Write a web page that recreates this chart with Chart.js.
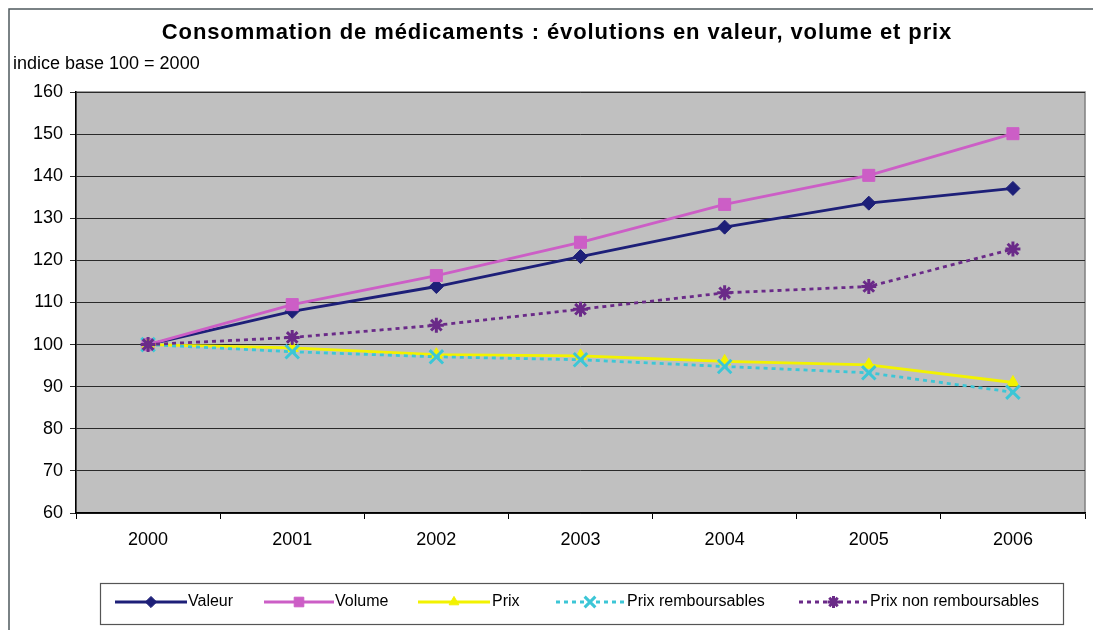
<!DOCTYPE html>
<html>
<head>
<meta charset="utf-8">
<script src="https://cdn.jsdelivr.net/npm/chart.js@4/dist/chart.umd.min.js"></script>
<style>
  html, body { margin: 0; padding: 0; background: #fff; }
  #wrap { width: 1093px; height: 630px; }
</style>
</head>
<body>
<div id="wrap"><canvas id="chart" width="1093" height="630"></canvas></div>
<script>
// data
const years = ["2000", "2001", "2002", "2003", "2004", "2005", "2006"];
const valeur = [100, 107.9, 113.8, 120.9, 127.9, 133.6, 137.1];
const volume = [100, 109.5, 116.4, 124.3, 133.3, 140.2, 150.1];
const prix = [100, 99.2, 97.6, 97.3, 96.0, 95.2, 91.0];
const prixRemb = [100, 98.3, 97.1, 96.4, 94.8, 93.3, 88.7];
const prixNonRemb = [100, 101.7, 104.6, 108.4, 112.3, 113.8, 122.7];
const yTicks = { min: 60, max: 160, step: 10 };

const titleText = "Consommation de médicaments : évolutions en valeur, volume et prix";
const subtitleText = "indice base 100 = 2000";
const FONT = "'Liberation Sans', Arial, sans-serif";

function series(label, data, color, pointStyle, radius, dash, order) {
  const thin = pointStyle === "crossRot" || pointStyle === "star";
  return {
    label: label,
    data: data,
    borderColor: color,
    backgroundColor: color,
    pointBackgroundColor: color,
    pointBorderColor: color,
    pointStyle: pointStyle,
    pointRadius: radius,
    pointHoverRadius: radius,
    pointBorderWidth: thin ? 3 : 1,
    borderWidth: 2.8,
    borderDash: dash,
    borderCapStyle: "butt",
    tension: 0,
    order: order
  };
}

const datasets = [
  series("Valeur", valeur, "#1d1f78", "rectRot", 7, [], 5),
  series("Volume", volume, "#cc5ec6", "rect", 8.5, [], 4),
  series("Prix", prix, "#f2f200", "triangle", 7, [], 3),
  series("Prix remboursables", prixRemb, "#3cc6d6", "crossRot", 9.5, [4, 4], 2),
  series("Prix non remboursables", prixNonRemb, "#6a2a88", "star", 7.5, [4, 4], 1)
];

// legend entry positions (line start, line end, text start)
const legendItems = [
  { x0: 115, x1: 187, tx: 188 },
  { x0: 264, x1: 334, tx: 335 },
  { x0: 418, x1: 490, tx: 492 },
  { x0: 556, x1: 624, tx: 627 },
  { x0: 799, x1: 868, tx: 870 }
];

function marker(ctx, style, r, x, y, color, lw) {
  if (Chart.helpers && Chart.helpers.drawPoint) {
    ctx.save();
    ctx.fillStyle = color;
    ctx.strokeStyle = color;
    ctx.lineWidth = lw;
    ctx.setLineDash([]);
    Chart.helpers.drawPoint(ctx, { pointStyle: style, radius: r, rotation: 0, borderWidth: lw }, x, y);
    ctx.restore();
  }
}

const decor = {
  id: "decor",
  beforeDraw(chart) {
    const ctx = chart.ctx;
    const a = chart.chartArea;
    ctx.save();
    ctx.fillStyle = "#fff";
    ctx.fillRect(0, 0, chart.width, chart.height);
    // outer frame (only top and left are visible in the picture)
    ctx.strokeStyle = "#4f5a5e";
    ctx.lineWidth = 1.5;
    ctx.beginPath();
    ctx.moveTo(9, chart.height);
    ctx.lineTo(9, 9);
    ctx.lineTo(chart.width, 9);
    ctx.stroke();
    // plot background
    ctx.fillStyle = "#c0c0c0";
    ctx.fillRect(a.left, a.top, a.right - a.left, a.bottom - a.top);
    ctx.strokeStyle = "#808080";
    ctx.lineWidth = 1.5;
    ctx.strokeRect(a.left, a.top, a.right - a.left, a.bottom - a.top);
    // title and subtitle
    ctx.fillStyle = "#000";
    ctx.textBaseline = "middle";
    ctx.textAlign = "center";
    ctx.font = "bold 22px " + FONT;
    if ("letterSpacing" in ctx) ctx.letterSpacing = "0.9px";
    ctx.fillText(titleText, 557, 33);
    if ("letterSpacing" in ctx) ctx.letterSpacing = "0px";
    ctx.textAlign = "left";
    ctx.font = "18px " + FONT;
    ctx.fillText(subtitleText, 13, 64);
    ctx.restore();
  },
  afterDraw(chart) {
    const ctx = chart.ctx;
    ctx.save();
    // legend box
    ctx.strokeStyle = "#555";
    ctx.lineWidth = 1.2;
    ctx.strokeRect(100.5, 583.5, 963, 41);
    const ly = 602;
    ctx.font = "16px " + FONT;
    ctx.textBaseline = "middle";
    ctx.textAlign = "left";
    chart.data.datasets.forEach((ds, i) => {
      const it = legendItems[i];
      ctx.strokeStyle = ds.borderColor;
      ctx.lineWidth = ds.borderWidth;
      ctx.setLineDash(ds.borderDash);
      ctx.beginPath();
      ctx.moveTo(it.x0, ly);
      ctx.lineTo(it.x1, ly);
      ctx.stroke();
      ctx.setLineDash([]);
      marker(ctx, ds.pointStyle, ds.pointRadius * 0.8, (it.x0 + it.x1) / 2, ly, ds.borderColor, ds.pointBorderWidth);
      ctx.fillStyle = "#000";
      ctx.fillText(ds.label, it.tx, ly);
    });
    ctx.restore();
  }
};

new Chart(document.getElementById("chart"), {
  type: "line",
  data: { labels: years, datasets: datasets },
  plugins: [decor],
  options: {
    responsive: false,
    animation: false,
    events: [],
    layout: { autoPadding: false, padding: { left: 0, right: 8, top: 92, bottom: 72 } },
    plugins: {
      legend: { display: false },
      title: { display: false },
      tooltip: { enabled: false }
    },
    scales: {
      x: {
        offset: true,
        afterFit: (s) => { s.height = 45; },
        grid: {
          offset: true,
          drawOnChartArea: false,
          drawTicks: true,
          tickLength: 6,
          color: "#000"
        },
        border: { color: "#000", width: 1.5 },
        ticks: {
          color: "#000",
          font: { family: FONT, size: 18 },
          padding: 10
        }
      },
      y: {
        min: yTicks.min,
        max: yTicks.max,
        afterFit: (s) => { s.width = 76; },
        grid: {
          color: "#2a2a2a",
          lineWidth: 1,
          tickLength: 6,
          drawTicks: true
        },
        border: { color: "#000", width: 1.5 },
        ticks: {
          stepSize: yTicks.step,
          color: "#000",
          font: { family: FONT, size: 18 },
          padding: 7
        }
      }
    }
  }
});
</script>
</body>
</html>
